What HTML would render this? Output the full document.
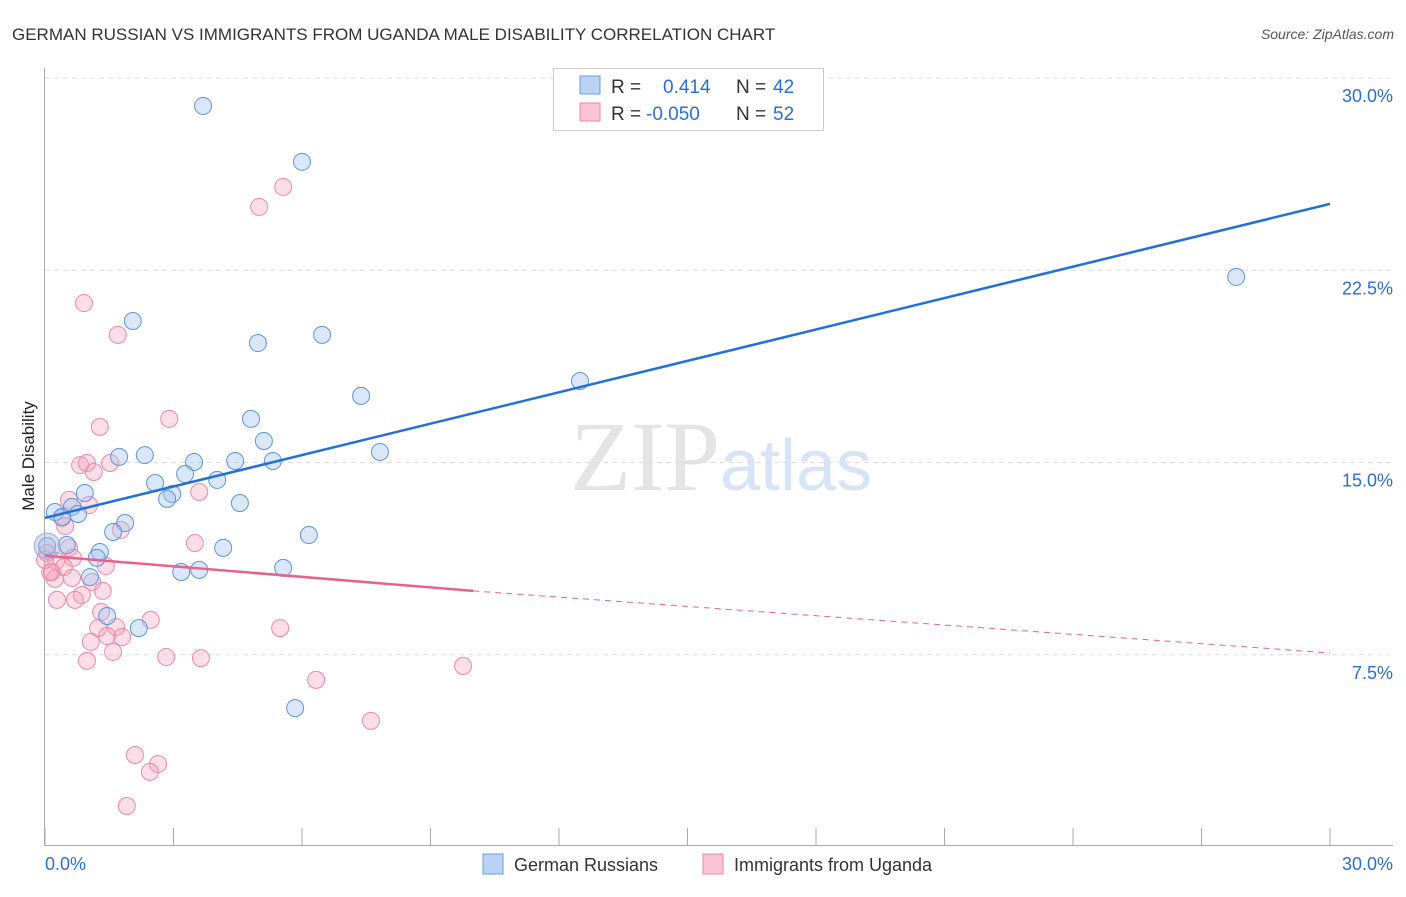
<!DOCTYPE html>
<html><head><meta charset="utf-8"><style>
body{margin:0;background:#fff;font-family:"Liberation Sans",sans-serif}
</style></head><body>
<svg id="c" width="1406" height="892" xmlns="http://www.w3.org/2000/svg" style="font-family:'Liberation Sans',sans-serif">
<text x="12" y="40" font-size="17" fill="#333">GERMAN RUSSIAN VS IMMIGRANTS FROM UGANDA MALE DISABILITY CORRELATION CHART</text>
<text x="1394" y="39" font-size="14" fill="#555" font-style="italic" text-anchor="end">Source: ZipAtlas.com</text>
<text x="720" y="490" font-size="100" fill="#e4e4e4" text-anchor="end" font-family="'Liberation Serif',serif">ZIP</text>
<text x="720" y="490" font-size="72" fill="#d6e4f5">atlas</text>
<text transform="translate(34,456) rotate(-90)" font-size="17" fill="#222" text-anchor="middle">Male Disability</text>
<g id="grid"></g><g id="pts"></g><g id="lines"></g>
<g>
<rect x="553.500" y="68.500" width="270" height="62" fill="#fff" stroke="#ccc"/>
<rect x="580" y="76" width="20" height="18" fill="#b9d3f5" stroke="#6a9be0"/>
<rect x="580" y="103" width="20" height="18" fill="#f9c4d4" stroke="#e888a8"/>
<text x="611" y="93" font-size="19" fill="#333">R = </text><text x="663" y="93" font-size="19" fill="#2b6fd6">0.414</text>
<text x="736" y="93" font-size="19" fill="#333">N = </text><text x="773" y="93" font-size="19" fill="#2b6fd6">42</text>
<text x="611" y="120" font-size="19" fill="#333">R = </text><text x="646" y="120" font-size="19" fill="#2b6fd6">-0.050</text>
<text x="736" y="120" font-size="19" fill="#333">N = </text><text x="773" y="120" font-size="19" fill="#2b6fd6">52</text>
</g>
<g>
<rect x="483" y="854" width="20" height="20" fill="#b9d3f5" stroke="#6a9be0"/>
<text x="514" y="871" font-size="18" fill="#333">German Russians</text>
<rect x="703" y="854" width="20" height="20" fill="#f9c4d4" stroke="#e888a8"/>
<text x="734" y="871" font-size="18" fill="#333">Immigrants from Uganda</text>
</g>
</svg>
<script>
const yTicks=[7.5,15,22.5,30];
const yTickLabels=["7.5%","15.0%","22.5%","30.0%"];
const xTickLabels=["0.0%","30.0%"];
const blueX=[3.69,6.00,27.81,2.05,4.97,6.47,12.49,7.38,4.81,5.11,7.82,1.73,2.33,3.48,4.44,5.32,3.27,4.02,2.57,2.97,2.85,4.55,0.93,0.63,0.23,0.77,1.87,1.59,6.16,0.51,0.05,1.28,1.21,4.16,3.18,3.60,5.56,1.05,1.45,2.19,5.84,0.40];
const blueY=[28.91,26.73,22.24,20.52,19.66,19.98,18.18,17.60,16.70,15.84,15.41,15.22,15.29,15.02,15.06,15.06,14.55,14.32,14.20,13.77,13.58,13.42,13.81,13.27,13.07,12.99,12.64,12.29,12.17,11.78,11.74,11.51,11.28,11.67,10.73,10.81,10.89,10.53,9.01,8.54,5.42,12.88];
const pinkX=[5.56,5.00,0.91,1.70,1.28,2.90,0.82,0.98,1.52,1.14,3.60,0.56,1.03,0.40,1.77,0.47,3.50,0.56,0.05,0.26,0.65,1.42,0.16,0.44,0.23,0.63,1.10,1.35,0.86,0.28,0.70,1.31,1.24,1.66,2.47,1.45,1.80,1.07,5.49,1.59,0.98,2.83,3.64,9.76,6.33,7.61,2.10,2.64,2.45,1.91,0.12,0.0];
const pinkY=[25.75,24.97,21.22,19.98,16.39,16.70,14.90,14.98,14.98,14.63,13.85,13.54,13.34,12.84,12.37,12.52,11.86,11.67,11.47,11.16,11.28,10.96,10.73,10.92,10.46,10.50,10.34,9.99,9.83,9.64,9.64,9.17,8.54,8.58,8.86,8.23,8.19,8.00,8.54,7.61,7.26,7.41,7.37,7.06,6.52,4.92,3.59,3.24,2.93,1.60,10.73,11.2];
const blueLine=[12.84,25.09];
const pinkLine=[11.36,9.99,7.57];
const X=v=>45+v/30*1285, Y=v=>847-v/30*769;
const NS="http://www.w3.org/2000/svg";
function mk(p,t,a){const e=document.createElementNS(NS,t);for(const k in a)e.setAttribute(k,a[k]);p.appendChild(e);return e;}
const svg=document.getElementById('c'),grid=document.getElementById('grid'),pts=document.getElementById('pts'),lines=document.getElementById('lines');
yTicks.forEach((t,i)=>{
 const g=mk(grid,'line',{x1:45,x2:1393,y1:Y(t),y2:Y(t),stroke:'#ddd','stroke-dasharray':'5,4'});
 
 
 const l=mk(svg,'text',{x:1393,y:Y(t)+24,'font-size':18,fill:'#2b6fd6','text-anchor':'end'});l.textContent=yTickLabels[i];
 
 
});
const ax=mk(grid,'path',{d:'M44.5,68V845.5H1393',stroke:'#aaa',fill:'none'});


for(let i=0;i<=10;i++){const t=mk(grid,'line',{x1:X(i*3),x2:X(i*3),y1:828,y2:845,stroke:'#aaa'});
 
 }
[[45,'start'],[1393,'end']].forEach((p,i)=>{const l=mk(svg,'text',{x:p[0],y:870,'font-size':18,fill:'#2b6fd6','text-anchor':p[1]});l.textContent=xTickLabels[i];
 
 });
pinkX.forEach((x,i)=>{const c=mk(pts,'circle',{cx:X(x),cy:Y(pinkY[i]),r:8.5,fill:'rgba(244,160,186,0.35)',stroke:'#eb8aa8','stroke-width':1});
 
 });
blueX.forEach((x,i)=>{const c=mk(pts,'circle',{cx:X(x),cy:Y(blueY[i]),r:8.5,fill:'rgba(160,196,240,0.4)',stroke:'#5f94dc','stroke-width':1});
 
 });
const big=mk(pts,'circle',{cx:X(0.05),cy:Y(11.74),r:13,fill:'rgba(170,180,220,0.45)',stroke:'#9ab0e0'});


const bl=mk(lines,'line',{x1:X(0),y1:Y(blueLine[0]),x2:X(30),y2:Y(blueLine[1]),stroke:'#2470d8','stroke-width':2.5});


const pl=mk(lines,'line',{x1:X(0),y1:Y(pinkLine[0]),x2:X(10),y2:Y(pinkLine[1]),stroke:'#e5648f','stroke-width':2.5});


const pd=mk(lines,'line',{x1:X(10),y1:Y(pinkLine[1]),x2:X(30),y2:Y(pinkLine[2]),stroke:'#e5648f','stroke-width':1,'stroke-dasharray':'6,5'});


</script>
</body></html>
